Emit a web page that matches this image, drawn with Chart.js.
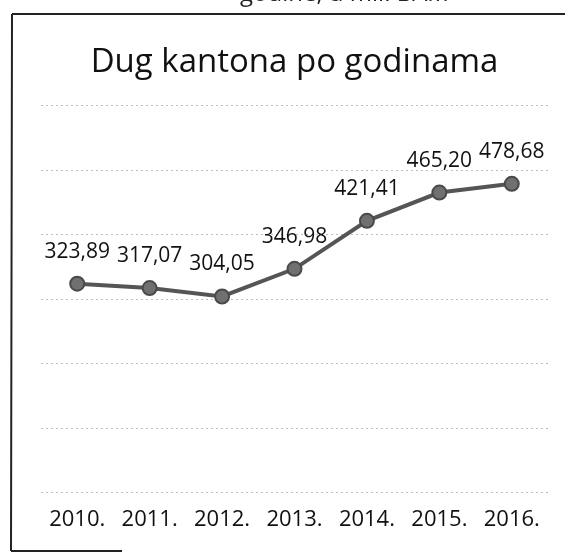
<!DOCTYPE html>
<html>
<head>
<meta charset="utf-8">
<script src="https://cdn.jsdelivr.net/npm/chart.js@4.4.1/dist/chart.umd.min.js"></script>
<style>
  html, body { margin: 0; padding: 0; background: #fff; }
  #wrap { width: 565px; height: 557px; position: relative; overflow: hidden; }
</style>
</head>
<body>
<div id="wrap"><canvas id="debtChart" width="565" height="557"></canvas></div>
<script>
// Data
const years = ['2010.', '2011.', '2012.', '2013.', '2014.', '2015.', '2016.'];
const debt = [323.89, 317.07, 304.05, 346.98, 421.41, 465.20, 478.68];
const debtLabels = ['323,89', '317,07', '304,05', '346,98', '421,41', '465,20', '478,68'];

// --- Frame lines + cut-off caption from the scan ---
const framePlugin = {
    id: 'frame',
    beforeDraw(chart) {
        const ctx = chart.ctx;
        ctx.save();
        ctx.strokeStyle = '#222';
        ctx.lineWidth = 2;
        ctx.beginPath();
        ctx.moveTo(12, 14); ctx.lineTo(565, 14);   // top
        ctx.moveTo(12, 14); ctx.lineTo(11, 551);   // left
        ctx.moveTo(11, 551); ctx.lineTo(122, 551); // bottom (partial in scan)
        ctx.stroke();
        ctx.fillStyle = '#222';
        ctx.font = '24px "Open Sans", sans-serif';
        ctx.textBaseline = 'alphabetic';
        ctx.fillText('godine, u mil. BAM', 240, 1);
        ctx.restore();
    }
};

// --- Value labels above each point ---
const valueLabels = {
    id: 'valueLabels',
    afterDatasetsDraw(chart) {
        const ctx = chart.ctx;
        const meta = chart.getDatasetMeta(0);
        ctx.save();
        ctx.fillStyle = '#111';
        ctx.font = '21px "Open Sans", sans-serif';
        ctx.textAlign = 'center';
        ctx.textBaseline = 'middle';
        meta.data.forEach((pt, i) => {
            ctx.fillText(debtLabels[i], pt.x, pt.y - 32);
        });
        ctx.restore();
    }
};

const ctx = document.getElementById('debtChart').getContext('2d');
new Chart(ctx, {
    type: 'line',
    data: {
        labels: years,
        datasets: [{
            data: debt,
            borderColor: '#555',
            borderWidth: 4,
            pointBackgroundColor: '#707070',
            pointBorderColor: '#4a4a4a',
            pointBorderWidth: 2,
            pointRadius: 7,
            tension: 0
        }]
    },
    options: {
        responsive: false,
        animation: false,
        layout: { padding: { left: 41, right: 17, top: 0, bottom: 10 } },
        scales: {
            x: {
                offset: true,
                grid: { display: false, drawTicks: false },
                border: { display: false },
                ticks: { color: '#111', font: { size: 22, family: '"Open Sans", sans-serif' }, padding: 14 }
            },
            y: {
                min: 0,
                max: 600,
                ticks: { display: false, stepSize: 100 },
                grid: { color: '#bdbdbd', lineWidth: 1, drawTicks: false },
                border: { display: false, dash: [2, 3] }
            }
        },
        plugins: {
            legend: { display: false },
            tooltip: { enabled: false },
            title: {
                display: true,
                text: 'Dug kantona po godinama',
                color: '#111',
                font: { size: 33, weight: 'normal', family: '"Open Sans", sans-serif' },
                padding: { top: 43, bottom: 23 }
            }
        }
    },
    plugins: [framePlugin, valueLabels]
});
</script>
</body>
</html>
